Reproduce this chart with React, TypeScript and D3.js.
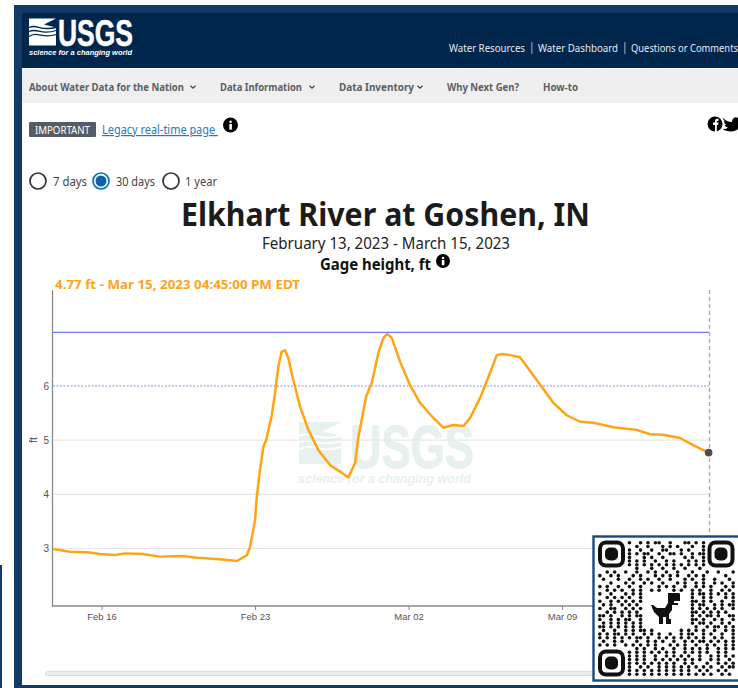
import React from "react";
import * as d3 from "d3";

// Gage height series: days since Feb 13 2023 00:00, feet
const readingDays = [0.77,1.54,2.32,2.91,3.59,4.05,4.87,5.64,6.65,7.33,8.38,9.16,9.61,9.75,9.98,10.05,10.2,10.36,10.48,10.74,10.89,11.04,11.19,11.34,11.49,11.72,12.03,12.41,12.86,13.4,13.85,14.23,14.54,14.69,15.04,15.3,15.6,15.83,16.01,16.21,16.59,17.04,17.5,18.11,18.56,19.02,19.48,19.78,20.24,20.69,21.0,21.23,21.6,22.06,22.82,23.58,24.19,24.8,25.4,26.32,27.38,27.99,28.58,29.36,29.95,30.66];
const readingFeet = [2.99,2.94,2.93,2.9,2.88,2.91,2.9,2.85,2.86,2.83,2.8,2.77,2.88,3.03,3.53,3.93,4.45,4.88,5.0,5.46,5.87,6.36,6.63,6.66,6.52,6.11,5.62,5.19,4.82,4.54,4.42,4.31,4.58,5.06,5.8,6.06,6.61,6.89,6.96,6.89,6.45,6.02,5.69,5.41,5.23,5.28,5.26,5.41,5.78,6.24,6.57,6.59,6.57,6.53,6.11,5.69,5.46,5.34,5.32,5.24,5.19,5.11,5.1,5.04,4.91,4.77];
const xTickDays = [3, 10, 17, 24];
const xTickLabels = ["Feb 16", "Feb 23", "Mar 02", "Mar 09"];
const yTicks = [3, 4, 5, 6];
const solidThreshold = 7;
const dottedThreshold = 6;
const navItems = ["About Water Data for the Nation", "Data Information", "Data Inventory", "Why Next Gen?", "How-to"];
const headerLinks = ["Water Resources", "Water Dashboard", "Questions or Comments"];
const rangeOptions = ["7 days", "30 days", "1 year"];
const qrRows = [
"........#..#.#.##..#...##.#.#........",
"..........#..#...#.#.#...#..#........",
"........#..#..#..##...#.#...#........",
"........#.#.##..#..##.#..#.##........",
"........#...#.#..#.....#.#..#........",
"........#.#.#..#..#.#...#.#.#........",
"........#.#.#.#.#.#.#.#.#.#.#........",
"..........#...#..#..#..#...#.........",
"..#.#..#..#..#.#..#..#...#...#..#...#",
"#..#.#...#.#...#.#.#.#..#.#.#.....#..",
".#...#..#..#.#..#..#...#.#..#..#...#.",
"...#...#.#..#.#..#...#.#..#.#..#.#..#",
"#.#..#..#..#....#.#.#..#..#.#.#...#.#",
"..#.#.#..#.#..#.#...#.#..#.#..#..#.#.",
"#..#...#.#.#.............#.##.#.#.#.#",
"..#.#.#.#..#.............#..#.#...#.#",
"#..#.#.#.#.#.............##.#.#..#..#",
".#.#..#.#.#..............#.##..#.#.##",
"#..##..#.#.#.............#.#.#.#.#..#",
"..#.#.#.#.#..............##.#.#.#.#..",
"##.#..#.#.##.............#.#.##.#..##",
"#..#.#.##..#.............##.#..#.#..#",
".#.#.#.#.#.#.............#.##.#..#.#.",
"##.#.#.#.#.#..............#..#.##.#.#",
".#..#..#.#.##.#.......#.#.#.#..#..#.#",
"#.#.##.#.#..#.#.#..#..#.##..#.#..#..#",
"#.#.#.#.#.##.#..#.#.#.#.#.#.#..#.#..#",
".#..#.#...#..#.#.#..#..#.#.##.#.#.#.#",
"#.#.#..#.#.#.#.#...#.#.#..#..#.#..#.#",
"..........#.#..#.#..#..#.#.#.#..#.#.#",
"........#.#.#.#.#.#.#..#.#.#.#..#.#..",
"........#.#.#..#..#.#.#.#..#..#.#.#.#",
"........#.#.#..#.#.#.#.#.#.#..#.#..#.",
"........#.#.#.#.#.#.#..#.#...#..#.#.#",
"........#..#.#..#.#.#.#.#.#.#.#..#.##",
"........#.#.#.#.#.#.#.#.#..#.#..#.#..",
"........#.#.#.#.#.#.#.#.#.#.#.#..#.#.",
];

const SANS = "'Noto Sans', Lato, sans-serif";
const ARIAL = "'Liberation Sans', Arial, sans-serif";
const NAVY = "#00264c";
const FRAME = "#123b66";

const x = d3.scaleLinear().domain([0.7, 30.7]).range([51.6, 709.5]);
const y = d3.scaleLinear().domain([3, 6]).range([548.5, 386]);
const line = d3.line<number>()
  .x((_, i) => x(readingDays[i]))
  .y((d) => y(d))
  .curve(d3.curveLinear);

const qrX = d3.scaleBand<number>().domain(d3.range(37)).range([598, 735]);
const qrY = d3.scaleBand<number>().domain(d3.range(37)).range([541, 676]);

function UsgsMark({ px, py, s, fg, bg }: { px: number; py: number; s: number; fg: string; bg: string }) {
  return (
    <g transform={`translate(${px},${py}) scale(${s})`}>
      <path d="M0 0H27L15 6L27 9V27H0Z" fill={fg} />
      <path d="M0 9C8 5 11 13 27 9M0 13C8 9 12 17 27 12M0 18C9 12 13 21 27 16" fill="none" stroke={bg} strokeWidth={1.3} />
    </g>
  );
}

function Finder({ cx, cy }: { cx: number; cy: number }) {
  return (
    <g>
      <rect x={cx - 11.5} y={cy - 11.5} width={23} height={23} rx={6} fill="none" stroke="#111" strokeWidth={4} />
      <rect x={cx - 6.5} y={cy - 6.5} width={13} height={13} rx={5} fill="#111" />
    </g>
  );
}

function Info({ cx, cy, r }: { cx: number; cy: number; r: number }) {
  return (
    <g>
      <circle cx={cx} cy={cy} r={r} fill="#000" />
      <rect x={cx - 1.2} y={cy - 1} width={2.6} height={r * 0.75} fill="#fff" />
      <circle cx={cx + 0.1} cy={cy - r * 0.42} r={1.3} fill="#fff" />
    </g>
  );
}

function Chevron({ cx, cy }: { cx: number; cy: number }) {
  return <path d={`M${cx - 2.5} ${cy - 1.2}L${cx} ${cy + 1.2}L${cx + 2.5} ${cy - 1.2}`} fill="none" stroke="#444" strokeWidth={1.3} />;
}

export default function App() {
  const navX = [29, 220, 339, 447, 543];
  const navW = [155, 82, 75, 72, 35];
  const radioX = [38, 101, 171];
  const radioLabelX = [53, 116, 185];
  const radioLabelW = [34, 39, 32];
  const linkX = [449, 538, 631];
  const linkW = [76, 80, 107];
  return (
    <svg width={738} height={688} style={{ position: "absolute", left: 0, top: 0, display: "block", background: "#fff" }}>
      {/* page frame */}
      <rect x={14} y={5} width={724} height={683} fill={FRAME} />
      <rect x={22} y={13} width={716} height={672} fill="#fff" />
      <rect x={0} y={565} width={2} height={123} fill={FRAME} />
      <rect x={22} y={13} width={716} height={55} fill={NAVY} />
      <rect x={22} y={69} width={716} height={34} fill="#efefef" />

      {/* logo */}
      <UsgsMark px={29} py={18.5} s={1} fg="#fff" bg={NAVY} />
      <text x={58} y={45.5} fontFamily="'Liberation Sans Narrow', 'Liberation Sans', sans-serif" fontWeight={700} fontSize={37} fill="#fff" stroke="#fff" strokeWidth={0.6} textLength={75} lengthAdjust="spacingAndGlyphs">USGS</text>
      <text x={29} y={54.5} fontFamily={ARIAL} fontWeight={700} fontStyle="italic" fontSize={7.5} fill="#fff" textLength={103} lengthAdjust="spacingAndGlyphs">science for a changing world</text>

      {/* header links */}
      {headerLinks.map((t, i) => (
        <text key={t} x={linkX[i]} y={52} fontFamily={SANS} fontSize={11} fill="#e6ebf0" textLength={linkW[i]} lengthAdjust="spacingAndGlyphs">{t}</text>
      ))}
      <rect x={531.5} y={42} width={0.8} height={12} fill="#cdd6df" />
      <rect x={624.5} y={42} width={0.8} height={12} fill="#cdd6df" />

      {/* nav */}
      {navItems.map((t, i) => (
        <text key={t} x={navX[i]} y={90.5} fontFamily={SANS} fontWeight={700} fontSize={10.5} fill="#5a5f66" textLength={navW[i]} lengthAdjust="spacingAndGlyphs">{t}</text>
      ))}
      <Chevron cx={193} cy={87} />
      <Chevron cx={312} cy={87} />
      <Chevron cx={420} cy={87} />

      {/* notice row */}
      <rect x={29} y={122} width={67} height={15} rx={1} fill="#565c65" />
      <text x={35} y={134} fontFamily={SANS} fontSize={10.5} fill="#fff" textLength={55} lengthAdjust="spacingAndGlyphs">IMPORTANT</text>
      <text x={102} y={134} fontFamily={SANS} fontSize={12} fill="#2a7ab8" textDecoration="underline" textLength={116} lengthAdjust="spacingAndGlyphs" xmlSpace="preserve">Legacy real-time page </text>
      <Info cx={230.5} cy={125} r={7.5} />
      <circle cx={715} cy={124} r={7.5} fill="#000" />
      <path d="M715 132V125H713V122.5H715V121C715 119 716.5 118.5 718.5 118.8V121H717.3C717 121 716.8 121.3 716.8 121.7V122.5H718.5L718.1 125H716.8V132Z" fill="#fff" />
      <path d="M723 118C726 121 729 122 732 122C732 118 736 116 738 118V129C736 131 732 132 727 131C725 130.5 724 130 723 129C725 129 727 128.5 728 127.5C726 127 725 126 724.5 125C725 125 726 125 726.5 124.8C725 124 724 123 724 121C724.5 121.3 725 121.5 725.8 121.6C724 120.5 723 120 723 118Z" fill="#000" />

      {/* period radios */}
      {rangeOptions.map((t, i) => (
        <g key={t}>
          <circle cx={radioX[i]} cy={181} r={8} fill="#fff" stroke={i === 1 ? "#0a6fb5" : "#333"} strokeWidth={1.7} />
          {i === 1 && <circle cx={radioX[i]} cy={181} r={5.5} fill="#0a63a8" />}
          <text x={radioLabelX[i]} y={185.5} fontFamily={SANS} fontSize={12} fill="#444" textLength={radioLabelW[i]} lengthAdjust="spacingAndGlyphs">{t}</text>
        </g>
      ))}

      {/* titles */}
      <text x={181} y={226} fontFamily={SANS} fontWeight={700} fontSize={32} fill="#1b1b1b" textLength={409} lengthAdjust="spacingAndGlyphs">Elkhart River at Goshen, IN</text>
      <text x={262} y={248.5} fontFamily={SANS} fontSize={15.5} fill="#222" textLength={248} lengthAdjust="spacingAndGlyphs">February 13, 2023 - March 15, 2023</text>
      <text x={320} y={269.5} fontFamily={SANS} fontWeight={700} fontSize={15.5} fill="#111" textLength={111} lengthAdjust="spacingAndGlyphs">Gage height, ft</text>
      <Info cx={443} cy={261} r={7} />
      <text x={55} y={289} fontFamily={SANS} fontWeight={700} fontSize={13} fill="#ffa31a" textLength={245} lengthAdjust="spacingAndGlyphs">4.77 ft - Mar 15, 2023 04:45:00 PM EDT</text>

      {/* watermark */}
      <UsgsMark px={299} py={422} s={1.56} fg="#e7f1ee" bg="#fff" />
      <text x={350} y={468} fontFamily="'Liberation Sans Narrow', 'Liberation Sans', sans-serif" fontWeight={700} fontSize={62} fill="#e7f1ee" stroke="#e7f1ee" strokeWidth={1} textLength={124} lengthAdjust="spacingAndGlyphs">USGS</text>
      <text x={298} y={483} fontFamily={ARIAL} fontWeight={700} fontStyle="italic" fontSize={13} fill="#e7f1ee" textLength={173} lengthAdjust="spacingAndGlyphs">science for a changing world</text>

      {/* grid */}
      {yTicks.filter((t) => t !== dottedThreshold).map((t) => (
        <line key={t} x1={53} x2={709} y1={y(t)} y2={y(t)} stroke="#e8e8e8" strokeWidth={1.2} />
      ))}
      <line x1={53} x2={709} y1={y(dottedThreshold)} y2={y(dottedThreshold)} stroke="#8f8fe8" strokeWidth={1} strokeDasharray="2 1.5" />
      <line x1={53} x2={709} y1={y(solidThreshold) + 0.5} y2={y(solidThreshold) + 0.5} stroke="#6b7cf5" strokeWidth={1.3} />

      {/* axes */}
      <line x1={52.5} x2={52.5} y1={290} y2={606.5} stroke="#8a8a8a" strokeWidth={1.3} />
      <line x1={52} x2={709} y1={606} y2={606} stroke="#8a8a8a" strokeWidth={1.3} />
      <line x1={709.5} x2={709.5} y1={290} y2={606} stroke="#aaa" strokeWidth={1.3} strokeDasharray="4 3" />
      {yTicks.map((t) => (
        <text key={t} x={49} y={y(t) + 3.5} textAnchor="end" fontFamily={ARIAL} fontSize={10} fill="#555">{t}</text>
      ))}
      <text transform="translate(37,440) rotate(-90)" textAnchor="middle" fontFamily={ARIAL} fontSize={10} fill="#444">ft</text>
      {xTickDays.map((d, i) => (
        <g key={d}>
          <line x1={x(d)} x2={x(d)} y1={606} y2={610} stroke="#8a8a8a" />
          <text x={x(d)} y={619.5} textAnchor="middle" fontFamily={ARIAL} fontSize={9.5} fill="#555">{xTickLabels[i]}</text>
        </g>
      ))}

      {/* series */}
      <path d={line(readingFeet) ?? ""} fill="none" stroke="#ffa412" strokeWidth={2.5} strokeLinejoin="round" />
      <circle cx={x(readingDays[readingDays.length - 1])} cy={y(readingFeet[readingFeet.length - 1])} r={3.8} fill="#4d4d4d" />

      {/* scrollbar */}
      <rect x={45.5} y={671.5} width={560} height={4} rx={2} fill="#ececec" stroke="#dcdcdc" />

      {/* QR code overlay */}
      <rect x={593.5} y={536.5} width={150} height={144} fill="#fff" stroke="#1b4a78" strokeWidth={2.4} />
      {qrRows.map((row, r) =>
        row.split("").map((c, k) =>
          c === "#" ? (
            <circle key={`${r}-${k}`} cx={(qrX(k) ?? 0) + qrX.bandwidth() / 2} cy={(qrY(r) ?? 0) + qrY.bandwidth() / 2} r={1.8} fill="#111" />
          ) : null
        )
      )}
      <Finder cx={611.5} cy={554} />
      <Finder cx={721} cy={554} />
      <Finder cx={611.5} cy={663} />
      <path transform="translate(651,593)" d="M17 0H28L29 1V8H23V10H27V12H21V17L18 21V26H20V31H15V24H12V31H8V24L3 19L0 12H2L6 15H14L17 10V1Z" fill="#111" />
    </svg>
  );
}
